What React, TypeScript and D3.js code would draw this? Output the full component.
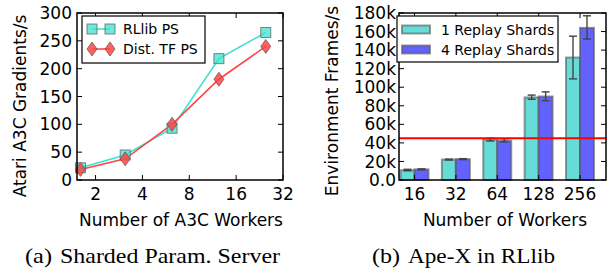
import React from 'react';
import * as d3 from 'd3';

// --- left panel: sharded parameter server ---
const a3cWorkers = [1.6, 3.1, 6.2, 12.4, 24.8];
const rllibPS = [22, 45, 93, 218, 265];
const distTfPS = [19, 38, 100, 181, 240];
const a3cXTicks = [2, 4, 8, 16, 32];
const a3cYTicks = [0, 50, 100, 150, 200, 250, 300];

// --- right panel: Ape-X (values in thousands) ---
const workerCounts = ['16', '32', '64', '128', '256'];
const shards1 = [10.5, 22, 43.5, 89, 132];
const shards1Lo = [10, 21.5, 42, 87, 109];
const shards1Hi = [11.5, 22.5, 45, 91.5, 155];
const shards4 = [11.5, 22.5, 42.5, 90, 164];
const shards4Lo = [11, 22, 41, 85.5, 152];
const shards4Hi = [12, 23, 44.5, 95, 177];
const apexYTicks = [0, 20, 40, 60, 80, 100, 120, 140, 160, 180];
const baselineK = 45;

const FONT = '"DejaVu Sans", sans-serif';
const TEAL = '#40e0d0';
const RED = '#ff4444';
const CYAN_BAR = '#66dcd8';
const BLUE_BAR = '#6262ff';

const top = 13, bottom = 180;
const L = { x0: 77, x1: 283 };
const R = { x0: 399, x1: 606 };
const TICK = 5;

function Square({ cx, cy }: { cx: number; cy: number }) {
  return <rect x={cx - 5} y={cy - 5} width={10} height={10} fill={TEAL} fillOpacity={0.75} stroke="#555" strokeOpacity={0.7} strokeWidth={1} />;
}
function Diamond({ cx, cy }: { cx: number; cy: number }) {
  const p = `M${cx},${cy - 7}L${cx + 5},${cy}L${cx},${cy + 7}L${cx - 5},${cy}Z`;
  return <path d={p} fill={RED} fillOpacity={0.85} stroke="#555" strokeOpacity={0.7} strokeWidth={1} />;
}

function LeftPanel() {
  const x = d3.scaleLog().base(2).domain([1.52, 32]).range([L.x0, L.x1]);
  const y = d3.scaleLinear().domain([0, 300]).range([bottom, top]);
  const line = d3.line<number>().x((_, i) => x(a3cWorkers[i])).y(d => y(d));
  return (
    <g fontFamily={FONT}>
      {a3cYTicks.map(t => (
        <g key={t}>
          <line x1={L.x0} x2={L.x0 + TICK} y1={y(t)} y2={y(t)} stroke="#000" />
          <line x1={L.x1} x2={L.x1 - TICK} y1={y(t)} y2={y(t)} stroke="#000" />
          <text x={L.x0 - 5} y={y(t)} dy="0.36em" textAnchor="end" fontSize={17}>{t}</text>
        </g>
      ))}
      {a3cXTicks.map(t => (
        <g key={t}>
          <line x1={x(t)} x2={x(t)} y1={bottom} y2={bottom - TICK} stroke="#000" />
          <line x1={x(t)} x2={x(t)} y1={top} y2={top + TICK} stroke="#000" />
          <text x={x(t)} y={200} textAnchor="middle" fontSize={17}>{t}</text>
        </g>
      ))}
      <path d={line(rllibPS) || ''} fill="none" stroke={TEAL} strokeWidth={1.6} />
      <path d={line(distTfPS) || ''} fill="none" stroke={RED} strokeWidth={1.6} />
      {rllibPS.map((v, i) => <Square key={i} cx={x(a3cWorkers[i])} cy={y(v)} />)}
      {distTfPS.map((v, i) => <Diamond key={i} cx={x(a3cWorkers[i])} cy={y(v)} />)}
      <rect x={L.x0} y={top} width={L.x1 - L.x0} height={bottom - top} fill="none" stroke="#000" strokeWidth={1.5} />
      {/* legend */}
      <rect x={82} y={16} width={123} height={47} fill="#fff" stroke="#000" strokeWidth={1.2} />
      <line x1={92} x2={110} y1={29} y2={29} stroke={TEAL} strokeWidth={1.6} />
      <Square cx={92} cy={29} />
      <Square cx={110} cy={29} />
      <text x={123} y={29} dy="0.36em" fontSize={14}>RLlib PS</text>
      <line x1={92} x2={110} y1={49} y2={49} stroke={RED} strokeWidth={1.6} />
      <Diamond cx={92} cy={49} />
      <Diamond cx={110} cy={49} />
      <text x={123} y={49} dy="0.36em" fontSize={14}>Dist. TF PS</text>
      <text transform="translate(26,106) rotate(-90)" textAnchor="middle" fontSize={17}>Atari A3C Gradients/s</text>
      <text x={181} y={226} textAnchor="middle" fontSize={17}>Number of A3C Workers</text>
    </g>
  );
}

function RightPanel() {
  const x = d3.scalePoint<string>().domain(workerCounts).range([R.x0 + 15.5, R.x1 - 26]);
  const y = d3.scaleLinear().domain([0, 180]).range([bottom, top]);
  const bw = 14;
  const series = [
    { vals: shards1, lo: shards1Lo, hi: shards1Hi, color: CYAN_BAR, off: -bw },
    { vals: shards4, lo: shards4Lo, hi: shards4Hi, color: BLUE_BAR, off: 0 },
  ];
  return (
    <g fontFamily={FONT}>
      {series.map((s, si) => (
        <g key={si}>
          {s.vals.map((v, i) => {
            const bx = (x(workerCounts[i]) as number) + s.off;
            return <rect key={i} x={bx} y={y(v)} width={bw} height={bottom - y(v)} fill={s.color} stroke="#555" strokeOpacity={0.6} strokeWidth={2} />;
          })}
        </g>
      ))}
      {series.map((s, si) => (
        <g key={'e' + si} stroke="#444" strokeWidth={1.4}>
          {s.vals.map((_, i) => {
            const cx = (x(workerCounts[i]) as number) + s.off + bw / 2;
            return (
              <g key={i}>
                <line x1={cx} x2={cx} y1={y(s.lo[i])} y2={y(s.hi[i])} />
                <line x1={cx - 4} x2={cx + 4} y1={y(s.lo[i])} y2={y(s.lo[i])} />
                <line x1={cx - 4} x2={cx + 4} y1={y(s.hi[i])} y2={y(s.hi[i])} />
              </g>
            );
          })}
        </g>
      ))}
      <line x1={R.x0} x2={R.x1} y1={y(baselineK)} y2={y(baselineK)} stroke="#ff0000" strokeWidth={1.8} />
      {apexYTicks.map(t => (
        <g key={t}>
          <line x1={R.x0} x2={R.x0 + TICK} y1={y(t)} y2={y(t)} stroke="#000" />
          <line x1={R.x1} x2={R.x1 - TICK} y1={y(t)} y2={y(t)} stroke="#000" />
          <text x={R.x0 - 3} y={y(t)} dy="0.36em" textAnchor="end" fontSize={17}>{t === 0 ? '0.0' : `${t}k`}</text>
        </g>
      ))}
      {workerCounts.map(w => (
        <g key={w}>
          <line x1={x(w)} x2={x(w)} y1={bottom} y2={bottom - TICK} stroke="#000" />
          <line x1={x(w)} x2={x(w)} y1={top} y2={top + TICK} stroke="#000" />
          <text x={x(w)} y={200} textAnchor="middle" fontSize={17}>{w}</text>
        </g>
      ))}
      <rect x={R.x0} y={top} width={R.x1 - R.x0} height={bottom - top} fill="none" stroke="#000" strokeWidth={1.5} />
      {/* legend */}
      <rect x={397} y={16} width={161} height={46} fill="#fff" stroke="#000" strokeWidth={1.2} />
      <rect x={402} y={25.5} width={28} height={8} fill={CYAN_BAR} stroke="#555" strokeOpacity={0.6} strokeWidth={2} />
      <text x={441} y={29.5} dy="0.36em" fontSize={14}>1 Replay Shards</text>
      <rect x={402} y={45.5} width={28} height={8} fill={BLUE_BAR} stroke="#555" strokeOpacity={0.6} strokeWidth={2} />
      <text x={441} y={49.5} dy="0.36em" fontSize={14}>4 Replay Shards</text>
      <text transform="translate(338,101) rotate(-90)" textAnchor="middle" fontSize={17}>Environment Frames/s</text>
      <text x={505} y={226} textAnchor="middle" fontSize={17}>Number of Workers</text>
    </g>
  );
}

export default function App() {
  return (
    <svg width={610} height={271} style={{ position: 'absolute', left: 0, top: 0, background: '#fff' }}>
      <rect width={610} height={271} fill="#fff" />
      <LeftPanel />
      <RightPanel />
      <g fontFamily='"Liberation Serif", serif' fontSize={21}>
        <text x={25} y={263} textLength={27} lengthAdjust="spacingAndGlyphs">(a)</text>
        <text x={60} y={263} textLength={220} lengthAdjust="spacingAndGlyphs">Sharded Param. Server</text>
        <text x={372} y={263} textLength={28} lengthAdjust="spacingAndGlyphs">(b)</text>
        <text x={408} y={263} textLength={147} lengthAdjust="spacingAndGlyphs">Ape-X in RLlib</text>
      </g>
    </svg>
  );
}
